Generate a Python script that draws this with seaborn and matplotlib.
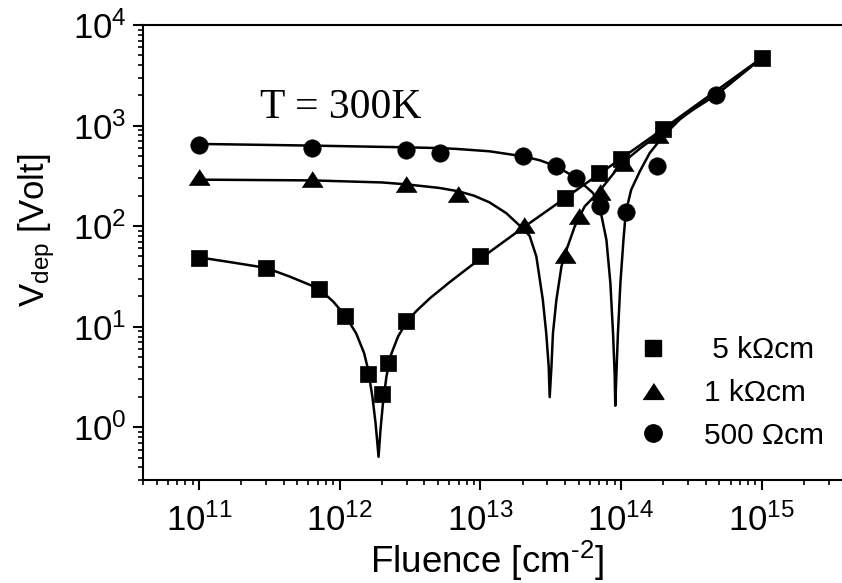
import matplotlib
matplotlib.use("Agg")
import matplotlib.pyplot as plt
from matplotlib.lines import Line2D
from matplotlib.ticker import LogLocator, NullFormatter
import numpy as np
import seaborn as sns

fluence_5k = [1e11, 3e11, 7.1e11, 1.1e12, 1.59e12, 1.99e12, 2.19e12, 2.98e12,
              1e13, 4e13, 7e13, 1e14, 2e14, 1e15]
vdep_5k = [48, 38.5, 24, 12.8, 3.4, 2.14, 4.4, 11.5, 50, 190, 338, 470, 930, 4700]

fluence_1k = [1e11, 6.4e11, 2.94e12, 6.93e12, 2.04e13, 4e13, 5.02e13, 7.05e13,
              1.03e14, 1.83e14]
vdep_1k = [310, 295, 264, 209, 103, 52, 125, 217, 425, 813]

fluence_500 = [1e11, 6.4e11, 2.94e12, 5.14e12, 2.01e13, 3.47e13, 4.75e13,
               7.13e13, 1.08e14, 1.8e14, 4.7e14]
vdep_500 = [647, 600, 567, 535, 502, 394, 301, 160, 137, 400, 2000]

# fitted curves, vertices
fit_5k_x = [1e11, 1.65e11, 3e11, 4.4e11, 7.1e11, 9e11, 1.1e12, 1.31e12, 1.49e12,
            1.59e12, 1.71e12, 1.8e12, 1.89e12, 1.95e12, 2.03e12, 2.15e12, 2.29e12,
            2.6e12, 3e12, 3.5e12, 4.4e12, 6e12, 8e12, 1e13, 2e13, 4e13, 1e14,
            2e14, 1e15]
fit_5k_y = [49, 44, 38.5, 31.6, 24, 17.8, 12.8, 8.6, 5.5, 3.8, 2.0, 1.1, 0.51,
            0.94, 1.73, 3.2, 5.05, 8.0, 11.2, 14.3, 19.3, 27.5, 37.5, 47.5, 96,
            190, 470, 930, 4700]

fit_1k_x = [1e11, 6.4e11, 2e12, 3e12, 5.1e12, 7e12, 9e12, 1.16e13, 1.53e13,
            2.01e13, 2.24e13, 2.5e13, 2.78e13, 2.94e13, 3.06e13, 3.11e13, 3.2e13,
            3.28e13, 3.47e13, 3.77e13, 4.09e13, 4.68e13, 5.51e13, 7e13, 1e14,
            1.4e14, 1.83e14, 2.6e14, 4.7e14, 1e15]
fit_1k_y = [290, 285, 272, 260, 240, 222, 201, 172.6, 134.5, 94.3, 80, 50, 18.5,
            8.6, 4.0, 2.0, 4.0, 8.6, 18.5, 39.7, 58, 99, 157, 222, 415, 610, 800,
            1180, 2000, 4700]

fit_500_x = [1e11, 6.4e11, 2.94e12, 5.14e12, 6.75e12, 1.16e13, 2.01e13, 2.64e13,
             3.47e13, 4.8e13, 6.31e13, 7.05e13, 7.87e13, 8.4e13, 8.77e13, 9.0e13,
             9.1e13, 9.27e13, 9.5e13, 9.89e13, 1.04e14, 1.08e14, 1.18e14, 1.36e14,
             1.6e14, 1.99e14, 2.61e14, 3.61e14, 4.7e14, 1e15]
fit_500_y = [657, 632, 608, 597, 586, 555, 495, 452, 394, 301, 214, 155, 73, 27,
             8.6, 3.45, 1.64, 3.45, 8.6, 27, 73, 137, 230, 351, 535, 783, 1148,
             1618, 2000, 4700]

labels = [" 5 k\u03a9cm", "1 k\u03a9cm", "500 \u03a9cm"]
x_ticks = [1e11, 1e12, 1e13, 1e14, 1e15]
y_ticks = [1e0, 1e1, 1e2, 1e3, 1e4]

sns.set_style("ticks", {"axes.edgecolor": "black", "xtick.color": "black",
                        "ytick.color": "black", "text.color": "black",
                        "axes.labelcolor": "black"})
plt.rcParams["font.family"] = ["Liberation Sans", "DejaVu Sans"]
plt.rcParams["mathtext.fontset"] = "custom"
plt.rcParams["mathtext.rm"] = "Liberation Sans"
plt.rcParams["mathtext.it"] = "Liberation Sans:italic"
plt.rcParams["mathtext.bf"] = "Liberation Sans:bold"

fig = plt.figure(figsize=(8.42, 5.83), dpi=100)
# the right part of the axes runs past the figure edge, as in the original
ax = fig.add_axes([0.1698, 0.1767, 0.902, 0.7805])
ax.set_xscale("log")
ax.set_yscale("log")

tri = [(-1, -0.76), (1, -0.76), (0, 0.76)]
series = [
    (fluence_5k, vdep_5k, fit_5k_x, fit_5k_y, "s", 11),
    (fluence_1k, vdep_1k, fit_1k_x, fit_1k_y, tri, 15),
    (fluence_500, vdep_500, fit_500_x, fit_500_y, "o", 12.5),
]
for fx, fy, lx, ly, marker, size in series:
    sns.lineplot(x=lx, y=ly, ax=ax, color="black", linewidth=1.8,
                 sort=False, estimator=None, zorder=2)
    sns.scatterplot(x=fx, y=fy, ax=ax, marker=marker, s=size ** 2, color="black",
                    edgecolor="black", linewidth=0.5, zorder=3)

ax.set_xlim(4e10, 1e16)
ax.set_ylim(0.3, 1e4)
ax.set_xticks(x_ticks)
ax.set_yticks(y_ticks)
for axis in (ax.xaxis, ax.yaxis):
    axis.set_minor_locator(LogLocator(base=10, subs=np.arange(2, 10), numticks=50))
    axis.set_minor_formatter(NullFormatter())

ax.spines["right"].set_visible(False)
for side in ("left", "bottom", "top"):
    ax.spines[side].set_linewidth(1.5)
ax.tick_params(which="major", direction="out", length=7, width=1.5, labelsize=25)
ax.tick_params(which="minor", direction="out", length=3.5, width=1.2)
ax.tick_params(axis="x", which="major", pad=10)
ax.tick_params(axis="y", which="major", pad=5)
ax.tick_params(top=False, right=False, which="both")

ax.set_xlabel("Fluence [cm$^{\\text{-2}}$]", fontsize=26.5)
ax.xaxis.set_label_coords(0.453, -0.129)
ax.set_ylabel("V$_{\\mathdefault{dep}}$ [Volt]", fontsize=25)
ax.yaxis.set_label_coords(-0.113, 0.549)

ax.text(2.7e11, 1200, "T = 300K", fontsize=30, family=["Liberation Serif"],
        va="baseline")

handles = [
    Line2D([], [], marker="s", markersize=11, color="black", linestyle="none"),
    Line2D([], [], marker=tri, markersize=15, color="black", linestyle="none"),
    Line2D([], [], marker="o", markersize=12.5, color="black", linestyle="none"),
]
ax.legend(handles, labels, loc="center left", bbox_to_anchor=(0.7577, 0.3259),
          bbox_transform=fig.transFigure, frameon=False, fontsize=21.5,
          handlelength=1.0, handletextpad=1.2, labelspacing=0.5,
          borderpad=0, borderaxespad=0)

fig.savefig("out.png", dpi=100)
